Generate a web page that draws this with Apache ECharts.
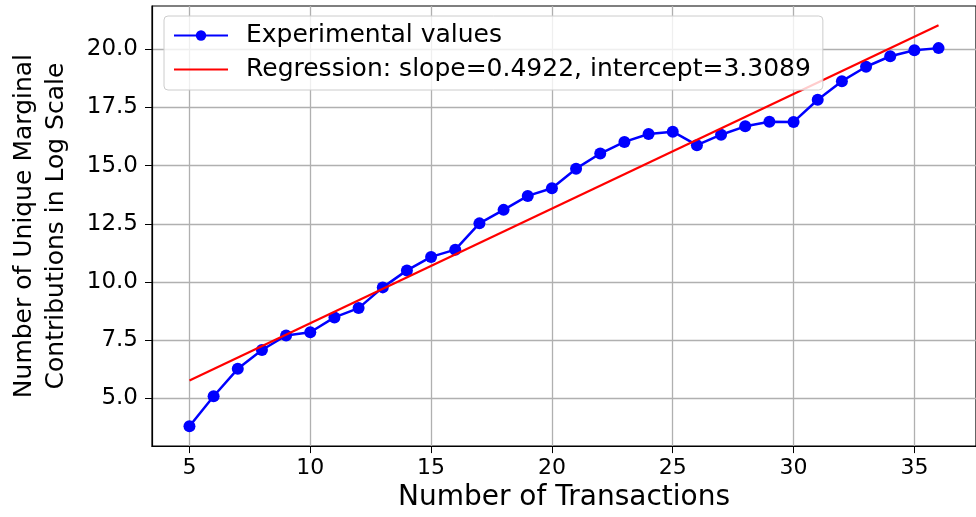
<!DOCTYPE html>
<html>
<head>
<meta charset="utf-8">
<script src="https://cdn.jsdelivr.net/npm/echarts@6/dist/echarts.min.js"></script>
<style>
  html, body { margin: 0; padding: 0; background: #fff; }
  #chart { width: 976px; height: 517px; }
</style>
</head>
<body>
<div id="chart"></div>
<script>
// number of transactions
var transactions = [5, 6, 7, 8, 9, 10, 11, 12, 13, 14, 15, 16, 17, 18, 19, 20,
  21, 22, 23, 24, 25, 26, 27, 28, 29, 30, 31, 32, 33, 34, 35, 36];
// experimental values (log scale)
var expValues = [3.80, 5.09, 6.27, 7.08, 7.70, 7.84, 8.48, 8.88, 9.77, 10.50, 11.08, 11.39,
  12.52, 13.10, 13.70, 14.03, 14.87, 15.52, 16.02, 16.36, 16.46, 15.88, 16.33, 16.69,
  16.89, 16.88, 17.83, 18.63, 19.25, 19.70, 19.96, 20.05];
// regression line end points
var regX = [5, 36];
var regY = [5.77, 21.03];
// ticks
var xTicks = [5, 10, 15, 20, 25, 30, 35];
var yTicks = [5, 7.5, 10, 12.5, 15, 17.5, 20];

var FONT = 'DejaVu Sans';
var chart = echarts.init(document.getElementById('chart'));

var option = {
  animation: false,
  grid: {
    left: 151, top: 6, right: -6, bottom: 69,
    show: true, borderColor: '#000', borderWidth: 1.2
  },
  legend: {
    orient: 'vertical',
    left: 164, top: 16,
    padding: [7, 12, 8, 9],
    itemWidth: 54, itemHeight: 13, itemGap: 9,
    backgroundColor: 'rgba(255,255,255,0.8)',
    borderColor: '#cccccc', borderWidth: 1, borderRadius: 4,
    textStyle: { fontFamily: FONT, fontSize: 25, color: '#000', padding: [0, 0, 0, 13] },
    data: [
      { name: 'Experimental values' },
      { name: 'Regression: slope=0.4922, intercept=3.3089', itemStyle: { opacity: 0 } }
    ]
  },
  xAxis: {
    type: 'value', min: 3.45, max: 37.55,
    name: 'Number of Transactions', nameLocation: 'middle', nameGap: 34,
    nameTextStyle: { fontFamily: FONT, fontSize: 28, color: '#000' },
    axisLine: { lineStyle: { color: '#000', width: 1.2 } },
    axisTick: { length: 7, lineStyle: { color: '#000' }, customValues: xTicks },
    axisLabel: { fontFamily: FONT, fontSize: 22, color: '#000', margin: 11, customValues: xTicks },
    splitLine: { show: true, lineStyle: { color: '#b0b0b0', width: 1.3 } }
  },
  yAxis: {
    type: 'value', min: 2.95, max: 21.86,
    name: 'Number of Unique Marginal\nContributions in Log Scale',
    nameLocation: 'middle', nameRotate: 90, nameGap: 80,
    nameTextStyle: { fontFamily: FONT, fontSize: 25, color: '#000', lineHeight: 32 },
    axisLine: { show: true, lineStyle: { color: '#000', width: 1.2 } },
    axisTick: { show: true, length: 7, lineStyle: { color: '#000' }, customValues: yTicks },
    axisLabel: {
      fontFamily: FONT, fontSize: 23, color: '#000', margin: 14, customValues: yTicks,
      formatter: function (v) { return v.toFixed(1); }
    },
    splitLine: { show: true, lineStyle: { color: '#b0b0b0', width: 1.3 } }
  },
  series: [
    {
      name: 'Experimental values',
      type: 'line',
      data: transactions.map(function (x, i) { return [x, expValues[i]]; }),
      color: '#0000ff',
      symbol: 'circle', symbolSize: 12,
      lineStyle: { width: 2.5, color: '#0000ff' },
      itemStyle: { color: '#0000ff' },
      z: 2
    },
    {
      name: 'Regression: slope=0.4922, intercept=3.3089',
      type: 'line',
      data: regX.map(function (x, i) { return [x, regY[i]]; }),
      color: '#ff0000',
      showSymbol: false, symbol: 'none',
      lineStyle: { width: 2.2, color: '#ff0000' },
      z: 3
    }
  ]
};
chart.setOption(option);
</script>
</body>
</html>
